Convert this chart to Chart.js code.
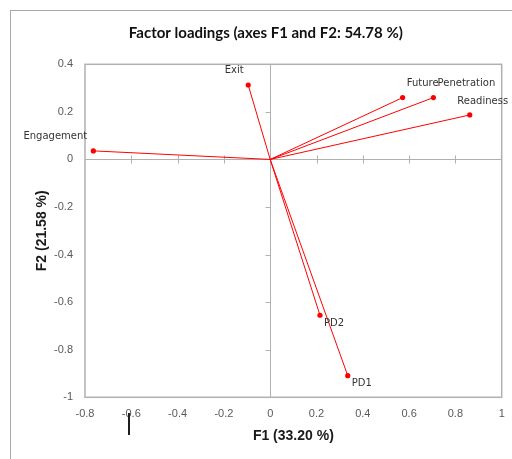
<!DOCTYPE html>
<html>
<head>
<meta charset="utf-8">
<script src="https://cdn.jsdelivr.net/npm/chart.js@4.4.1/dist/chart.umd.min.js"></script>
<style>
  html, body { margin: 0; padding: 0; background: #fff; }
  #wrap { position: relative; width: 512px; height: 459px; overflow: hidden; }
  #frame { position: absolute; left: 10px; top: 10px; width: 700px; height: 700px;
           border-left: 1px solid #a8a8a8; border-top: 1px solid #a8a8a8; }
  #cursor { position: absolute; left: 128px; top: 413px; width: 2px; height: 22px; background: #1e1e1e; }
  canvas { position: absolute; left: 0; top: 0; }
</style>
</head>
<body>
<div id="wrap">
  <div id="frame"></div>
  <canvas id="c" width="512" height="459"></canvas>
  <div id="cursor"></div>
</div>
<script>
// ---- data ----
const variables = ['Engagement', 'Exit', 'Future', 'Penetration', 'Readiness', 'PD2', 'PD1'];
const f1Loadings = [-0.764, -0.095, 0.572, 0.705, 0.862, 0.215, 0.335];
const f2Loadings = [0.036, 0.313, 0.260, 0.260, 0.187, -0.655, -0.909];
const xTickValues = [-0.8, -0.6, -0.4, -0.2, 0, 0.2, 0.4, 0.6, 0.8, 1];
const yTickValues = [-1, -0.8, -0.6, -0.4, -0.2, 0, 0.2, 0.4];
const chartTitle = 'Factor loadings (axes F1 and F2: 54.78 %)';
const xTitle = 'F1 (33.20 %)';
const yTitle = 'F2 (21.58 %)';

const RED = '#ff0000';
const GRAY = '#b0b0b0';

const datasets = variables.map((name, i) => ({
  label: name,
  data: [{x: 0, y: 0}, {x: f1Loadings[i], y: f2Loadings[i]}],
  showLine: true,
  borderColor: RED,
  borderWidth: 1,
  pointRadius: [0, 2.6],
  pointHoverRadius: [0, 2.6],
  pointBackgroundColor: RED,
  pointBorderColor: RED,
  pointBorderWidth: 0
}));

const fmt = v => String(Math.round(v * 10) / 10);

const framePlugin = {
  id: 'frameAxes',
  beforeDatasetsDraw(chart) {
    const {ctx, chartArea: a, scales: {x, y}} = chart;
    ctx.save();
    ctx.strokeStyle = GRAY;
    ctx.lineWidth = 1.5;
    ctx.strokeRect(a.left, a.top, a.right - a.left, a.bottom - a.top);
    const x0 = Math.round(x.getPixelForValue(0)) + 0.5;
    const y0 = Math.round(y.getPixelForValue(0)) + 0.5;
    ctx.lineWidth = 1;
    ctx.beginPath();
    ctx.moveTo(x0, a.top); ctx.lineTo(x0, a.bottom);
    ctx.moveTo(a.left, y0); ctx.lineTo(a.right, y0);
    xTickValues.forEach(v => {
      if (v === 0 || v === xTickValues[0] || v === xTickValues[xTickValues.length - 1]) return;
      const px = Math.round(x.getPixelForValue(v)) + 0.5;
      ctx.moveTo(px, y0 - 4); ctx.lineTo(px, y0 + 4);
    });
    yTickValues.forEach(v => {
      if (v === 0 || v === yTickValues[0] || v === yTickValues[yTickValues.length - 1]) return;
      const py = Math.round(y.getPixelForValue(v)) + 0.5;
      ctx.moveTo(x0 - 5, py); ctx.lineTo(x0, py);
    });
    ctx.stroke();
    ctx.restore();
  }
};

const labelPlugin = {
  id: 'pointNames',
  afterDatasetsDraw(chart, args, opts) {
    const {ctx} = chart;
    ctx.save();
    ctx.font = '10px "DejaVu Sans"';
    ctx.fillStyle = '#333333';
    ctx.textAlign = 'center';
    ctx.textBaseline = 'middle';
    chart.data.datasets.forEach((ds, i) => {
      const el = chart.getDatasetMeta(i).data[1];
      const off = opts.offsets[i];
      ctx.fillText(ds.label, el.x + off[0], el.y + off[1]);
    });
    ctx.restore();
  }
};

const yTitlePlugin = {
  id: 'yTitle',
  afterDraw(chart, args, opts) {
    const {ctx, chartArea: a} = chart;
    ctx.save();
    ctx.translate(opts.x, (a.top + a.bottom) / 2);
    ctx.rotate(-Math.PI / 2);
    ctx.font = 'bold 14px "Liberation Sans"';
    ctx.fillStyle = '#1a1a1a';
    ctx.textAlign = 'center';
    ctx.textBaseline = 'middle';
    ctx.fillText(opts.text, 0, 0);
    ctx.restore();
  }
};

new Chart(document.getElementById('c'), {
  type: 'scatter',
  data: {datasets},
  options: {
    responsive: false,
    animation: false,
    events: [],
    layout: {padding: {left: 30, right: 10.3, top: 0, bottom: 0}},
    plugins: {
      legend: {display: false},
      tooltip: {enabled: false},
      title: {
        display: true,
        text: chartTitle,
        color: '#111111',
        font: {family: 'Lato', size: 15, weight: 'bold'},
        padding: {top: 24.3, bottom: 22.0}
      },
      pointNames: {
        offsets: [[-38, -14], [-14, -15], [20, -14], [33, -14], [13, -14], [14, 8], [14, 8]]
      },
      yTitle: {text: yTitle, x: 42}
    },
    scales: {
      x: {
        type: 'linear',
        min: xTickValues[0],
        max: xTickValues[xTickValues.length - 1],
        afterBuildTicks: s => { s.ticks = xTickValues.map(v => ({value: v})); },
        afterFit: s => { s.height = 61.7; s.paddingLeft = 0; s.paddingRight = 0; },
        grid: {display: false, drawTicks: false},
        border: {display: false},
        ticks: {
          color: '#595959',
          font: {family: 'Liberation Sans', size: 11},
          padding: 10,
          maxRotation: 0,
          callback: v => fmt(v)
        },
        title: {
          display: true,
          text: xTitle,
          color: '#1a1a1a',
          font: {family: 'Liberation Sans', size: 14, weight: 'bold'},
          padding: {top: 0, bottom: 14.6}
        }
      },
      y: {
        type: 'linear',
        min: yTickValues[0],
        max: yTickValues[yTickValues.length - 1],
        afterBuildTicks: s => { s.ticks = yTickValues.map(v => ({value: v})); },
        afterFit: s => { s.width = 55; },
        grid: {display: false, drawTicks: false},
        border: {display: false},
        ticks: {
          color: '#595959',
          font: {family: 'Liberation Sans', size: 11},
          padding: 12,
          callback: v => fmt(v)
        },
        title: {display: false}
      }
    }
  },
  plugins: [framePlugin, labelPlugin, yTitlePlugin]
});
</script>
</body>
</html>
